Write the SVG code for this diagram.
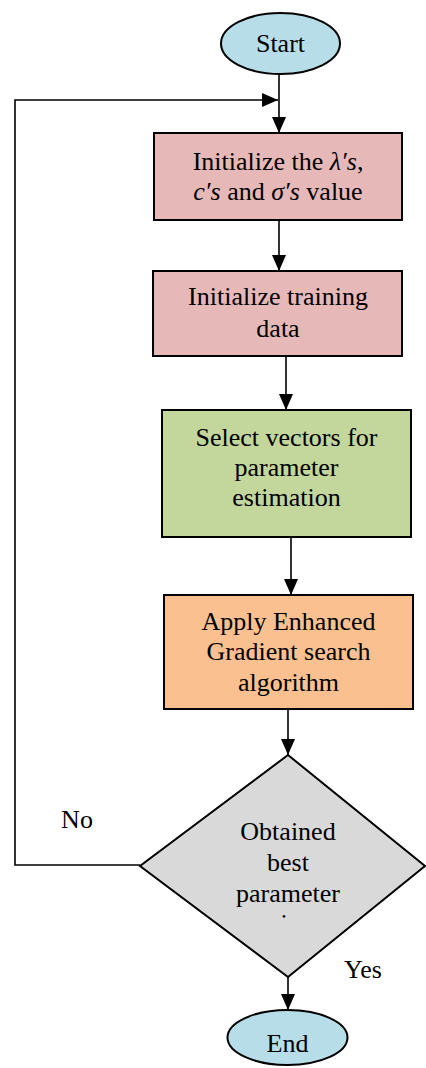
<svg xmlns="http://www.w3.org/2000/svg" width="426" height="1068" viewBox="0 0 426 1068">
<style>
  text { font-family: "Liberation Serif", "Times New Roman", serif; font-size: 26px; fill: #000; text-anchor: middle; }
  .it { font-style: italic; }
  .node { stroke: #000; stroke-width: 2; }
  .conn { stroke: #000; stroke-width: 1.6; fill: none; }
  .blue { fill: #b7dee8; }
  .pink { fill: #e6b9b8; }
  .green { fill: #c3d69b; }
  .orange { fill: #fac090; }
  .grey { fill: #d9d9d9; }
</style>
<defs>
  <marker id="arrow" markerUnits="userSpaceOnUse" markerWidth="16" markerHeight="14" refX="16" refY="7" orient="auto">
    <path d="M0,0 L16,7 L0,14 z" fill="#000"/>
  </marker>
  <clipPath id="cut"><rect x="260" y="910" width="50" height="9"/></clipPath>
</defs>
<g id="connectors">
  <line class="conn" x1="279" y1="74" x2="279" y2="133" marker-end="url(#arrow)"/>
  <polyline class="conn" points="140,865 15,865 15,100 278,100" marker-end="url(#arrow)"/>
  <line class="conn" x1="279" y1="220" x2="279" y2="271" marker-end="url(#arrow)"/>
  <line class="conn" x1="286" y1="356" x2="286" y2="410" marker-end="url(#arrow)"/>
  <line class="conn" x1="291" y1="537" x2="291" y2="595" marker-end="url(#arrow)"/>
  <line class="conn" x1="288" y1="709" x2="288" y2="755" marker-end="url(#arrow)"/>
  <line class="conn" x1="288" y1="977" x2="288" y2="1010" marker-end="url(#arrow)"/>
  <text x="77" y="828">No</text>
  <text x="363" y="978">Yes</text>
</g>
<g id="start">
  <ellipse class="node blue" cx="280.5" cy="43.5" rx="59.5" ry="30.5"/>
  <text x="280.5" y="52">Start</text>
</g>
<g id="init-params">
  <rect class="node pink" x="154" y="133" width="248" height="87"/>
  <text x="278" y="170">Initialize the <tspan class="it">λ′s</tspan>,</text>
  <text x="278" y="200"><tspan class="it">c′s</tspan> and <tspan class="it">σ′s</tspan> value</text>
</g>
<g id="init-data">
  <rect class="node pink" x="153" y="271" width="249" height="85"/>
  <text x="278" y="305">Initialize training</text>
  <text x="278" y="337">data</text>
</g>
<g id="select">
  <rect class="node green" x="162" y="410" width="249" height="127"/>
  <text x="286.5" y="446">Select vectors for</text>
  <text x="286.5" y="476">parameter</text>
  <text x="286.5" y="506">estimation</text>
</g>
<g id="apply">
  <rect class="node orange" x="164" y="595" width="249" height="114"/>
  <text x="288.5" y="630">Apply Enhanced</text>
  <text x="288.5" y="660">Gradient search</text>
  <text x="288.5" y="691">algorithm</text>
</g>
<g id="decision">
  <polygon class="node grey" points="288,755 425,866 288,977 140,866"/>
  <text x="288" y="840">Obtained</text>
  <text x="288" y="871">best</text>
  <text x="288" y="902">parameter</text>
  <text x="284" y="932" clip-path="url(#cut)">i</text>
</g>
<g id="end">
  <ellipse class="node blue" cx="287.5" cy="1037.5" rx="60" ry="27.5"/>
  <text x="287.5" y="1052">End</text>
</g>
</svg>
